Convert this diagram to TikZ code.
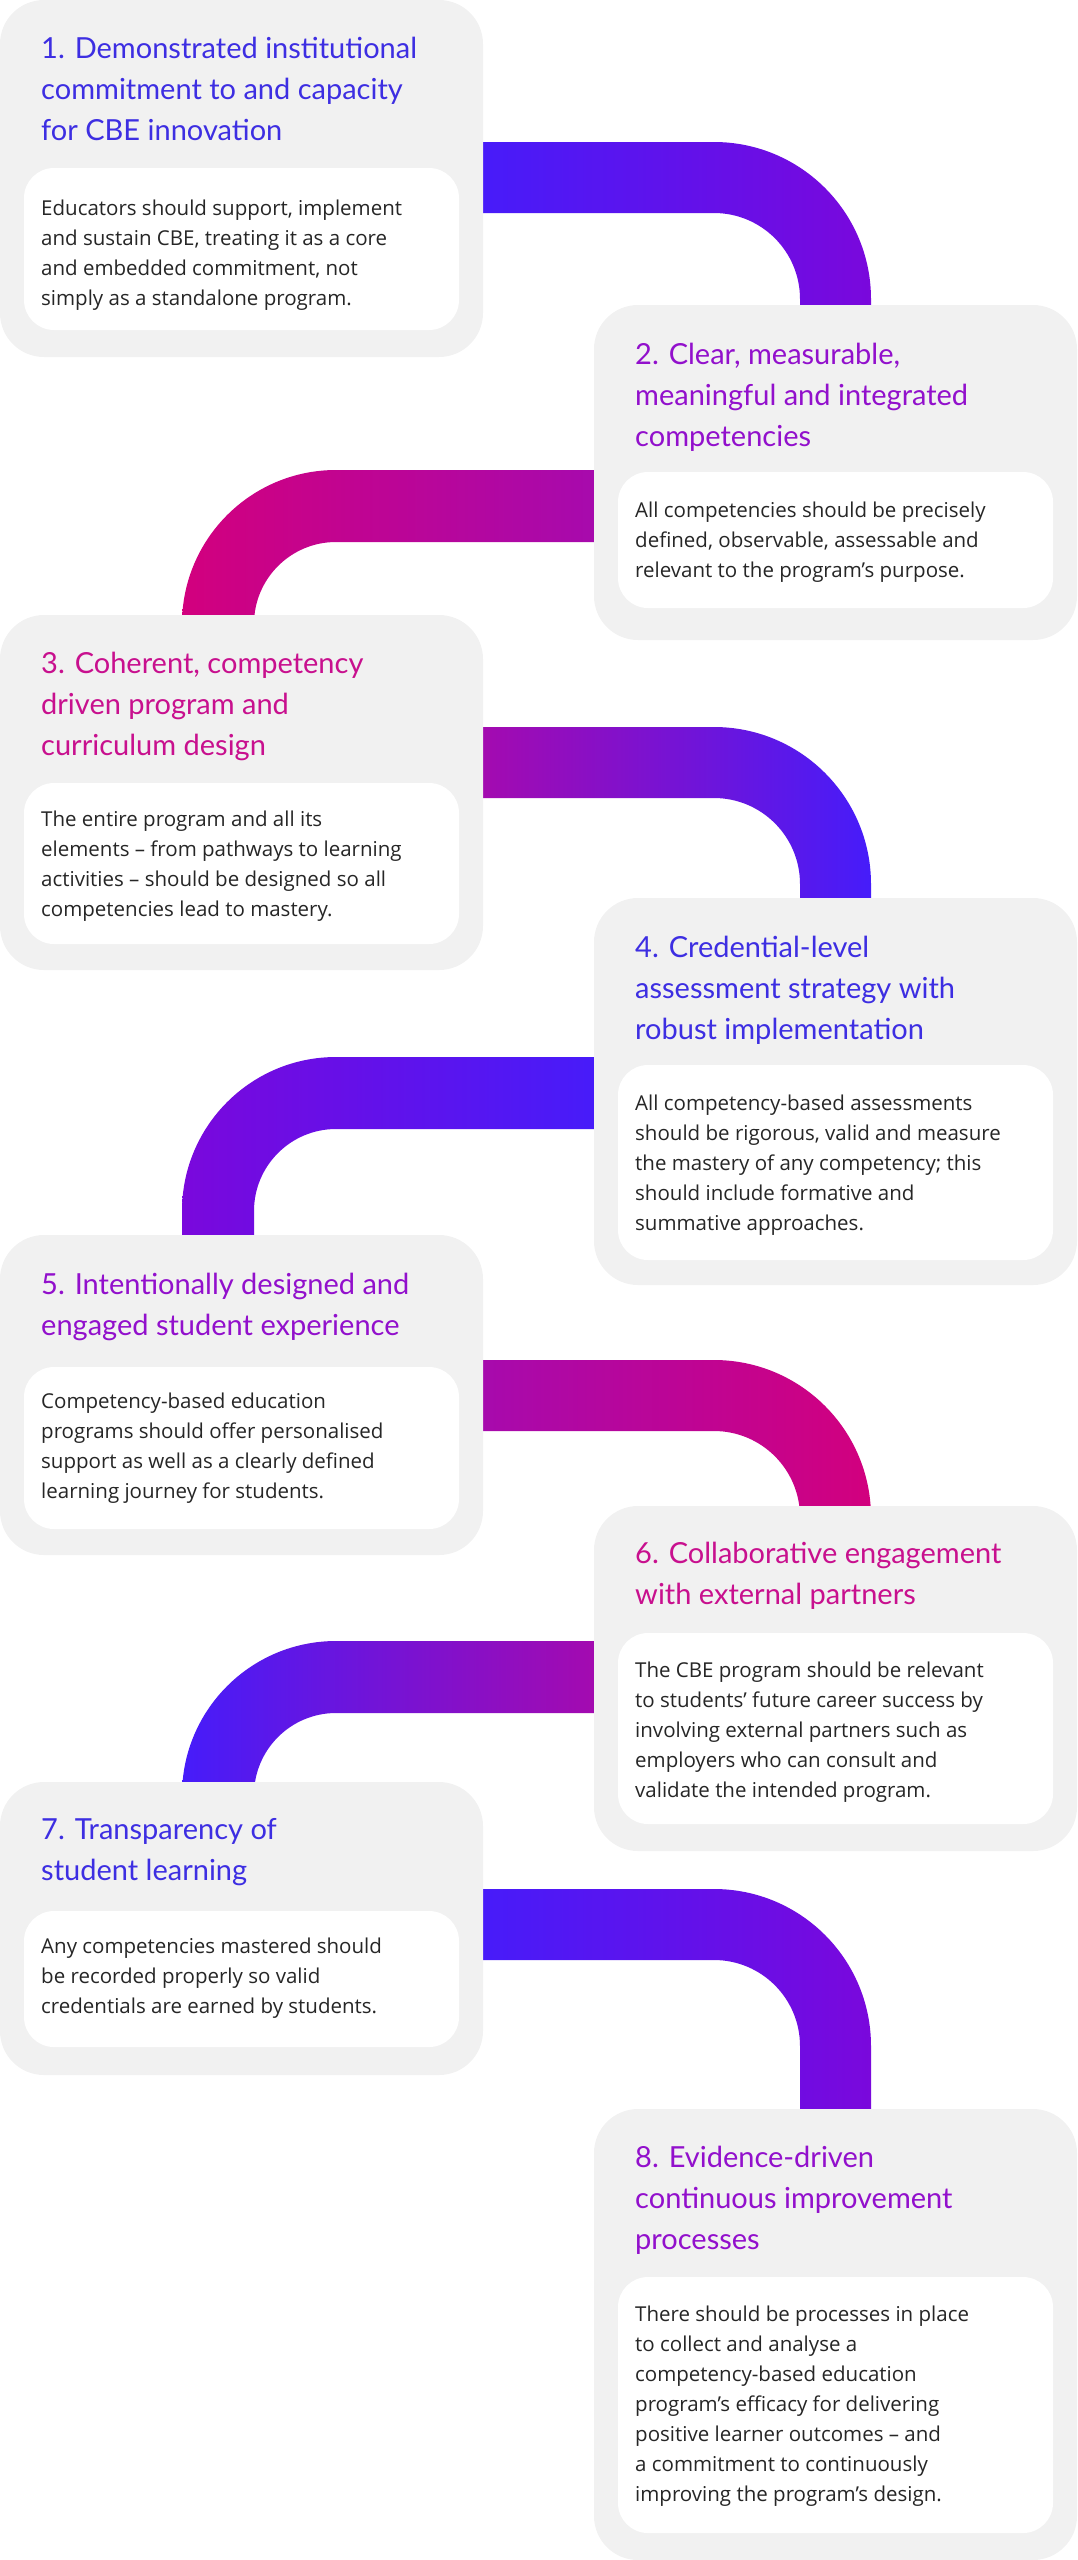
\documentclass[tikz,border=0pt]{standalone}
\usepackage{fontspec}
\setmainfont{Open Sans}
\newfontfamily\headfont{Lato}
\definecolor{cardgray}{HTML}{F1F1F1}
\definecolor{cblue}{HTML}{3D2EE2}
\definecolor{cpurple}{HTML}{9210CC}
\definecolor{cmagenta}{HTML}{C8108E}
\definecolor{bblue}{HTML}{461CFA}
\definecolor{bviolet}{HTML}{7A08DC}
\definecolor{bpurple}{HTML}{A60AAE}
\definecolor{bmagenta}{HTML}{D2007E}
% band turning right and down: top y, end y
\newcommand\bandright[4]{%
  \shade[left color=#3,right color=#4] (473,#1) -- (714,#1)
    arc[start angle=90,end angle=0,radius=157pt] -- (871,#2) -- (800,#2)
    -- (800,#1+157) arc[start angle=0,end angle=90,radius=86pt]
    -- (473,#1+71) -- cycle;}
% band turning left and down
\newcommand\bandleft[4]{%
  \shade[left color=#3,right color=#4] (604,#1) -- (336,#1)
    arc[start angle=90,end angle=180,radius=154pt] -- (182,#2) -- (254,#2)
    -- (254,#1+154) arc[start angle=180,end angle=90,radius=82pt]
    -- (604,#1+72) -- cycle;}
% grey card with white inner box: x, top, bottom, inner top, inner bottom
\newcommand\cardbox[5]{%
  \fill[cardgray,rounded corners=44pt] (#1,#2) rectangle (#1+483,#3);
  \fill[white,rounded corners=30pt] (#1+24,#4) rectangle (#1+459,#5);}
\newcommand\tstrut{\rule{0pt}{22pt}}
\newcommand\bstrut{\rule{0pt}{16pt}}
\begin{document}
\begin{tikzpicture}[x=1pt,y=-1pt,
    title/.style={anchor=north west,inner sep=0pt,align=left,yshift=22pt,
      font=\headfont\fontsize{29}{41}\selectfont},
    body/.style={anchor=north west,inner sep=0pt,align=left,text=black!85,yshift=16pt,
      font=\fontsize{20.5}{30}\selectfont}]
  \useasboundingbox (0,0) rectangle (1077,2560);
  % connectors
  \bandright{142}{310}{bblue}{bviolet}
  \bandleft{470}{620}{bmagenta}{bpurple}
  \bandright{727}{903}{bpurple}{bblue}
  \bandleft{1057}{1240}{bviolet}{bblue}
  \bandright{1360}{1511}{bpurple}{bmagenta}
  \bandleft{1641}{1787}{bblue}{bpurple}
  \bandright{1889}{2114}{bblue}{bviolet}
  % cards
  \cardbox{0}{0}{357}{168}{330}
  \cardbox{594}{305}{640}{472}{608}
  \cardbox{0}{615}{970}{783}{944}
  \cardbox{594}{898}{1285}{1065}{1260}
  \cardbox{0}{1235}{1555}{1367}{1529}
  \cardbox{594}{1506}{1851}{1633}{1824}
  \cardbox{0}{1782}{2075}{1911}{2047}
  \cardbox{594}{2109}{2560}{2277}{2533}
  % texts
  \node[title,text=cblue] (t1) at (41,58) {\tstrut1. Demonstrated institutional\\commitment to and capacity\\for CBE innovation};
  \node[body] (b1) at (41,215) {\bstrut Educators should support, implement\\and sustain CBE, treating it as a core\\and embedded commitment, not\\simply as a standalone program.};
  \node[title,text=cpurple] (t2) at (635,364) {\tstrut2. Clear, measurable,\\meaningful and integrated\\competencies};
  \node[body] (b2) at (635,517) {\bstrut All competencies should be precisely\\defined, observable, assessable and\\relevant to the program’s purpose.};
  \node[title,text=cmagenta] (t3) at (41,673) {\tstrut3. Coherent, competency\\driven program and\\curriculum design};
  \node[body] (b3) at (41,826) {\bstrut The entire program and all its\\elements – from pathways to learning\\activities – should be designed so all\\competencies lead to mastery.};
  \node[title,text=cblue] (t4) at (635,957) {\tstrut4. Credential-level\\assessment strategy with\\robust implementation};
  \node[body] (b4) at (635,1110) {\bstrut All competency-based assessments\\should be rigorous, valid and measure\\the mastery of any competency; this\\should include formative and\\summative approaches.};
  \node[title,text=cpurple] (t5) at (41,1294) {\tstrut5. Intentionally designed and\\engaged student experience};
  \node[body] (b5) at (41,1408) {\bstrut Competency-based education\\programs should offer personalised\\support as well as a clearly defined\\learning journey for students.};
  \node[title,text=cmagenta] (t6) at (635,1563) {\tstrut6. Collaborative engagement\\with external partners};
  \node[body] (b6) at (635,1677) {\bstrut The CBE program should be relevant\\to students’ future career success by\\involving external partners such as\\employers who can consult and\\validate the intended program.};
  \node[title,text=cblue] (t7) at (41,1839) {\tstrut7. Transparency of\\student learning};
  \node[body] (b7) at (41,1953) {\bstrut Any competencies mastered should\\be recorded properly so valid\\credentials are earned by students.};
  \node[title,text=cpurple] (t8) at (635,2167) {\tstrut8. Evidence-driven\\continuous improvement\\processes};
  \node[body] (b8) at (635,2321) {\bstrut There should be processes in place\\to collect and analyse a\\competency-based education\\program’s efficacy for delivering\\positive learner outcomes – and\\a commitment to continuously\\improving the program’s design.};
\end{tikzpicture}
\end{document}
